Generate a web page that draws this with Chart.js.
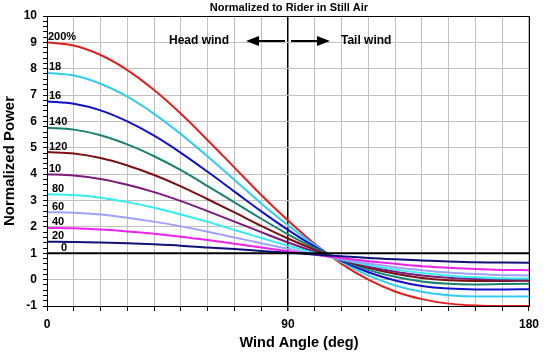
<!DOCTYPE html>
<html>
<head>
<meta charset="utf-8">
<script src="https://cdn.jsdelivr.net/npm/chart.js@4"></script>
<style>
  html, body { margin: 0; padding: 0; background: #fff; }
  #wrap { width: 545px; height: 357px; }
</style>
</head>
<body>
<div id="wrap"><canvas id="c" width="545" height="357"></canvas></div>
<script>
// Wind angle (deg): 0 = head wind, 180 = tail wind
const angles = [0,10,20,30,40,50,60,70,80,90,100,110,120,130,140,150,160,170,180];

// Normalized power for wind speed as % of rider speed
const p0   = [1,1,1,1,1,1,1,1,1,1,1,1,1,1,1,1,1,1,1];
const p20  = [1.44,1.43,1.41,1.38,1.34,1.29,1.22,1.16,1.09,1.02,0.95,0.89,0.82,0.77,0.73,0.69,0.66,0.65,0.64];
const p40  = [1.96,1.95,1.90,1.83,1.74,1.63,1.50,1.36,1.22,1.08,0.94,0.81,0.70,0.60,0.51,0.45,0.40,0.37,0.36];
const p60  = [2.56,2.54,2.47,2.35,2.20,2.02,1.82,1.60,1.38,1.17,0.96,0.77,0.61,0.47,0.36,0.27,0.21,0.17,0.16];
const p80  = [3.24,3.21,3.11,2.94,2.73,2.47,2.19,1.88,1.58,1.28,1.01,0.76,0.55,0.38,0.25,0.15,0.09,0.05,0.04];
const p100 = [4.00,3.95,3.82,3.60,3.32,2.98,2.60,2.20,1.80,1.41,1.06,0.75,0.50,0.30,0.16,0.07,0.02,0.00,0.00];
const p120 = [4.84,4.78,4.61,4.33,3.97,3.54,3.05,2.55,2.04,1.56,1.13,0.75,0.45,0.22,0.06,-0.02,-0.05,-0.05,-0.04];
const p140 = [5.76,5.69,5.48,5.13,4.68,4.15,3.55,2.93,2.31,1.72,1.19,0.74,0.37,0.11,-0.07,-0.16,-0.18,-0.17,-0.16];
const p160 = [6.76,6.67,6.42,6.00,5.46,4.81,4.09,3.34,2.59,1.89,1.25,0.71,0.28,-0.03,-0.24,-0.34,-0.37,-0.37,-0.36];
const p180 = [7.84,7.74,7.43,6.94,6.29,5.52,4.67,3.78,2.89,2.06,1.31,0.66,0.16,-0.22,-0.46,-0.59,-0.64,-0.64,-0.64];
const p200 = [9.00,8.88,8.52,7.95,7.19,6.29,5.29,4.25,3.21,2.24,1.35,0.60,0.00,-0.45,-0.74,-0.91,-0.98,-1.00,-1.00];

// Curve labels as printed at the left edge of the chart
const curveLabels = ['0','20','40','60','80','10','120','140','16','18','200%'];
const seriesData  = [p0,p20,p40,p60,p80,p100,p120,p140,p160,p180,p200];
const seriesColors = ['#000000','#10107a','#ee22ee','#a0a0ff','#33eeee','#7a1a7a','#7a1010','#1a8070','#1010cc','#33ccee','#e0201e'];
const labelDx = [14,5,5,5,5,2,2,2,2,2,1];

// Axis tick labels
const xTickLabels = [0, 90, 180];
const yMin = -1, yMax = 10;

const FONT = '"Liberation Sans", Arial, sans-serif';

const datasets = seriesData.map((arr, i) => ({
  label: curveLabels[i],
  data: angles.map((a, j) => ({ x: a, y: arr[j] })),
  borderColor: seriesColors[i],
  borderWidth: 2,
  pointRadius: 0,
  fill: false,
  tension: 0.4,
  cubicInterpolationMode: 'monotone',
  order: i === 0 ? 0 : 1
}));

const annotate = {
  id: 'annotate',
  afterDraw(chart) {
    const ctx = chart.ctx;
    const xs = chart.scales.x, ys = chart.scales.y;
    const ca = chart.chartArea;
    ctx.save();
    // plot frame
    ctx.strokeStyle = '#000';
    ctx.lineWidth = 1;
    ctx.strokeRect(Math.round(ca.left) + 0.5, Math.round(ca.top) + 0.5, Math.round(ca.right - ca.left), Math.round(ca.bottom - ca.top));

    ctx.fillStyle = '#000';
    // title
    ctx.font = 'bold 11px ' + FONT;
    ctx.textAlign = 'center';
    ctx.textBaseline = 'middle';
    ctx.fillText('Normalized to Rider in Still Air', (ca.left + ca.right) / 2 + 1, 8);

    // head / tail wind annotation
    const x90 = xs.getPixelForValue(90);
    const ay = 41;
    ctx.font = 'bold 12px ' + FONT;
    ctx.textAlign = 'right';
    ctx.fillText('Head wind', x90 - 59, ay);
    ctx.textAlign = 'left';
    ctx.fillText('Tail wind', x90 + 53, ay);
    ctx.lineWidth = 2;
    ctx.beginPath();
    ctx.moveTo(x90 - 3, ay); ctx.lineTo(x90 - 32, ay);
    ctx.moveTo(x90 + 3, ay); ctx.lineTo(x90 + 32, ay);
    ctx.stroke();
    ctx.beginPath();
    ctx.moveTo(x90 - 42, ay); ctx.lineTo(x90 - 29, ay - 5); ctx.lineTo(x90 - 29, ay + 5); ctx.closePath();
    ctx.moveTo(x90 + 42, ay); ctx.lineTo(x90 + 29, ay - 5); ctx.lineTo(x90 + 29, ay + 5); ctx.closePath();
    ctx.fill();

    // curve labels
    ctx.font = 'bold 11px ' + FONT;
    ctx.textAlign = 'left';
    ctx.textBaseline = 'alphabetic';
    seriesData.forEach((arr, i) => {
      const px = xs.getPixelForValue(angles[0]) + labelDx[i];
      const py = ys.getPixelForValue(arr[0]) - 2.5;
      ctx.fillText(curveLabels[i], px, py);
    });

    // axis titles
    ctx.font = 'bold 14.5px ' + FONT;
    ctx.textAlign = 'center';
    ctx.textBaseline = 'middle';
    ctx.fillText('Wind Angle (deg)', (ca.left + ca.right) / 2 + 11, 343);
    ctx.save();
    ctx.translate(10, (ca.top + ca.bottom) / 2);
    ctx.rotate(-Math.PI / 2);
    ctx.font = 'bold 15px ' + FONT;
    ctx.fillText('Normalized Power', 0, 0);
    ctx.restore();
    ctx.restore();
  }
};

const isInt = v => Math.abs(v - Math.round(v)) < 1e-6;

new Chart(document.getElementById('c'), {
  type: 'line',
  data: { datasets },
  options: {
    responsive: false,
    animation: false,
    devicePixelRatio: 1,
    layout: { padding: { top: 16, right: 15, left: 0, bottom: 0 } },
    plugins: { legend: { display: false }, tooltip: { enabled: false }, title: { display: false } },
    scales: {
      x: {
        type: 'linear',
        min: 0, max: 180,
        afterFit: s => { s.height = 51; },
        border: { display: true, color: '#000', width: 1 },
        grid: {
          color: c => (c.tick && c.tick.value === 90) ? '#000' : '#c0c0c0',
          lineWidth: c => (c.tick && c.tick.value === 90) ? 1.5 : 1,
          tickColor: '#000',
          tickLength: 5,
          drawTicks: true
        },
        ticks: {
          stepSize: 10,
          autoSkip: false,
          maxRotation: 0,
          padding: 6,
          color: '#000',
          font: { family: FONT, size: 12, weight: 'bold' },
          callback: v => xTickLabels.includes(v) ? String(v) : ''
        }
      },
      y: {
        min: yMin, max: yMax,
        afterFit: s => { s.width = 47; },
        border: { display: true, color: '#000', width: 1 },
        grid: {
          color: c => (c.tick && isInt(c.tick.value)) ? '#c0c0c0' : 'rgba(0,0,0,0)',
          tickColor: '#000',
          tickLength: 4,
          drawTicks: true
        },
        ticks: {
          stepSize: 0.2,
          autoSkip: false,
          padding: 6,
          color: '#000',
          font: { family: FONT, size: 12, weight: 'bold' },
          callback: v => isInt(v) ? String(Math.round(v)) : ''
        }
      }
    }
  },
  plugins: [annotate]
});
</script>
</body>
</html>
